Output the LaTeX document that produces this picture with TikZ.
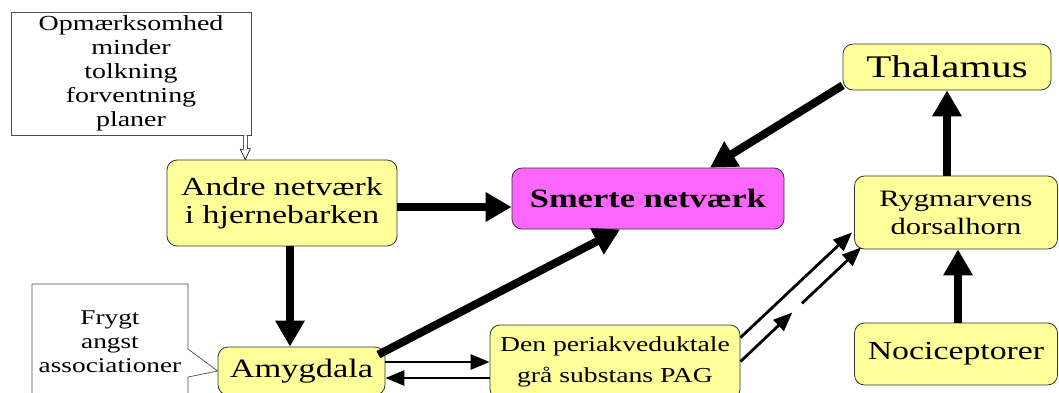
\documentclass[tikz,border=0pt]{standalone}
\usepackage{fontspec}
\setmainfont{Liberation Serif}[FakeStretch=1.3]
\usepackage{tikz}
\usetikzlibrary{positioning,arrows.meta,shapes.callouts,calc}

\definecolor{boxyellow}{HTML}{FFFF99}
\definecolor{boxpink}{HTML}{FF66FF}

% font size with baseline skip
\newcommand{\fsz}[2]{\fontsize{#1}{#2}\selectfont}

\begin{document}
\begin{tikzpicture}[x=1pt, y=-1pt,
  region/.style={draw=black!80, fill=boxyellow, rounded corners=10pt, line width=0.8pt,
                 align=center, inner sep=0pt},
  notebox/.style={draw=black!70, fill=white, line width=0.7pt, align=center, inner sep=0pt},
  bigarrow/.style={line width=8pt, -{Triangle[length=26pt,width=28pt]}},
  thinarrow/.style={line width=2.8pt, -{Triangle[length=19pt,width=15pt]}}
]
  \useasboundingbox (0,0) rectangle (1059,392);

  % Note boxes
  \node[notebox, font=\fsz{21.5}{24}, minimum width=240pt, minimum height=123pt] (note) at (131,73.5)
    {Opmærksomhed\\minder\\tolkning\\forventning\\planer};

  % Brain regions
  \node[region, font=\fsz{26}{28}, minimum width=230pt, minimum height=86pt] (andre) at (282,203)
    {Andre netværk\\i hjernebarken};
  \node[region, fill=boxpink, font=\fsz{26.5}{28}\bfseries, minimum width=272pt, minimum height=61pt]
    (smerte) at (648,198.5) {Smerte netværk};
  \node[region, font=\fsz{31.5}{34}, minimum width=208pt, minimum height=46pt] (thal) at (947,67)
    {Thalamus};
  \node[region, font=\fsz{23.5}{28}, minimum width=203pt, minimum height=73pt] (ryg) at (956,212.5)
    {Rygmarvens\\dorsalhorn};
  \node[region, font=\fsz{26}{30}, minimum width=203pt, minimum height=62pt] (noci) at (956,354)
    {Nociceptorer};
  \node[region, font=\fsz{26.5}{30}, minimum width=167pt, minimum height=48pt] (amyg) at (301.5,371)
    {Amygdala};
  \node[region, font=\fsz{21.3}{31}, minimum width=250pt, minimum height=74pt] (pag) at (615,362)
    {Den periakveduktale\\grå substans PAG};

  % Callout to amygdala
  \node[notebox, rectangle callout, callout absolute pointer={(amyg.west)}, font=\fsz{21}{24},
        callout pointer width=28pt, minimum width=156pt, minimum height=116pt] (frygt) at (110,342)
    {Frygt\\angst\\associationer};

  % Hollow arrow from note
  \coordinate (ha) at ([xshift=-6pt]note.south east);
  \draw[line width=0.6pt, fill=white] ([xshift=-2pt]ha) -- ++(0,14) -- ++(-3,0)
    -- (ha |- andre.north) -- ++(5,-11) -- ++(-3,0) -- ([xshift=2pt]ha);

  % Thick connections
  \draw[bigarrow] ([yshift=-4pt]andre.east) -- ([yshift=-4pt]andre.east -| smerte.west);
  \draw[bigarrow] ([xshift=8pt]andre.south) -- ([xshift=8pt]andre.south |- amyg.north);
  \draw[bigarrow] ([xshift=-7pt,yshift=-8pt]amyg.north east) -- ([xshift=-28pt]smerte.south);
  \draw[bigarrow] ([yshift=5pt]thal.south west) -- ([xshift=62pt]smerte.north);
  \draw[bigarrow] (ryg.north -| thal.south) -- (thal.south);
  \draw[bigarrow] ([xshift=2pt]noci.north) -- ([xshift=2pt]noci.north |- ryg.south);

  % Thin connections
  \draw[thinarrow] ([yshift=9pt]amyg.east) -- ([yshift=9pt]amyg.east -| pag.west);
  \draw[thinarrow] ([yshift=-7pt]amyg.east -| pag.west) -- ([yshift=-7pt]amyg.east);
  \draw[thinarrow] ([yshift=-13pt]pag.north east) -- ([xshift=-2pt,yshift=17pt]ryg.south west);

  % Broken connection
  \coordinate (bs) at ([yshift=-37pt]pag.north east);
  \coordinate (be) at ([xshift=7pt,yshift=2pt]ryg.south west);
  \draw[thinarrow] (bs) -- ($(bs)!0.43!(be)$);
  \draw[thinarrow] ($(bs)!0.51!(be)$) -- (be);
\end{tikzpicture}
\end{document}
